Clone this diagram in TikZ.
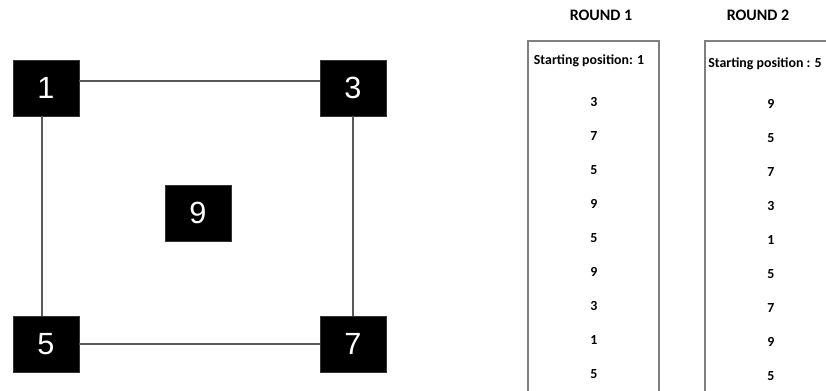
\documentclass[tikz,border=0pt]{standalone}
\usepackage{fontspec}
\setmainfont{Carlito}
\newfontfamily\arialfont{Liberation Sans}
\usetikzlibrary{positioning}
\definecolor{edgegray}{HTML}{5A5A5A}
\definecolor{framegray}{HTML}{7F7F7F}
\tikzset{
  sq style/.style={rectangle, fill=black, draw=black!80, inner sep=0pt,
    minimum width=49.5pt, minimum height=42pt, text=white,
    font=\arialfont\fontsize{23}{23}\selectfont},
  edge style/.style={draw=edgegray, line width=1.1pt},
  frame style/.style={draw=framegray, line width=0.8pt},
  title style/.style={font=\bfseries\fontsize{12}{14}\selectfont},
  item style/.style={font=\bfseries\fontsize{10.4}{12}\selectfont}
}
\begin{document}
\begin{tikzpicture}[x=0.75pt, y=-0.75pt]
\useasboundingbox (0,0) rectangle (826,390);
\node[sq style] (n1) at (46,88) {1};
\node[sq style] (n3) at (353,88) {3};
\node[sq style] (n5) at (46,344) {5};
\node[sq style] (n7) at (353,344) {7};
\node[sq style] (n9) at (198,213) {9};
\draw[edge style] (n1.12) -- (n3.168);
\draw[edge style] (n5) -- (n7);
\draw[edge style] (n1.262) -- (n5.98);
\draw[edge style] (n3) -- (n7);

\node[title style] (r1) at (601,15) {ROUND 1};
\node[title style] (r2) at (758,15) {ROUND 2};
\draw[frame style] (528,392) -- (528,41) -- (659,41) -- (659,392);
\draw[frame style] (705,392) -- (705,41) -- (830,41);
\node[item style] (s1) at (589,61) {Starting position: 1};
\node[item style] (s2) at (765,64) {Starting position : 5};
\foreach \v [count=\i] in {3,7,5,9,5,9,3,1,5}
  \node[item style] (a\i) at (594,{102+34*(\i-1)}) {\v};
\foreach \v [count=\i] in {9,5,7,3,1,5,7,9,5}
  \node[item style] (b\i) at (771,{104+34*(\i-1)}) {\v};
\end{tikzpicture}
\end{document}
